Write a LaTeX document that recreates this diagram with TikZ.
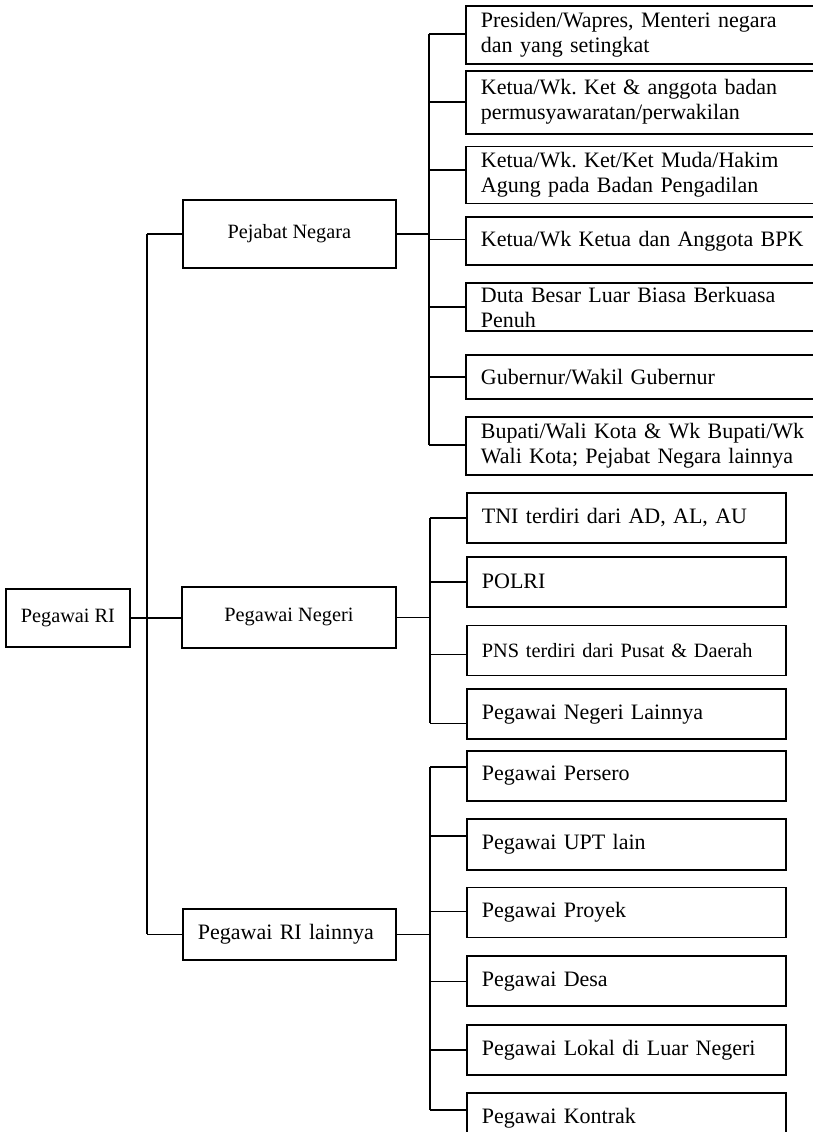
\documentclass[tikz,border=0pt]{standalone}
\usepackage{fontspec}
\setmainfont{Liberation Serif}
\frenchspacing
\usetikzlibrary{positioning}
\tikzstyle{rootbox} = [draw, line width=1.8pt, anchor=north west, inner sep=0pt, text centered, font=\fontsize{20.3}{24}\selectfont]
\tikzstyle{groupbox} = [draw, line width=1.8pt, anchor=north west, inner sep=0pt, text centered, font=\fontsize{20.3}{24}\selectfont]
\tikzstyle{leafbox} = [draw, line width=1.8pt, anchor=north west, inner xsep=15pt, inner ysep=0pt, text width=335pt, align=left, font=\fontsize{22}{25}\selectfont]
\tikzstyle{line} = [draw, line width=1.6pt]
\newcommand{\pegroot}[3]{node (r#1) [rootbox,#2] {#3}}
\newcommand{\peggroup}[3]{node (g#1) [groupbox,#2] {#3}}
\newcommand{\pegleaf}[3]{node (l#1) [leafbox,#2] {#3}}

\begin{document}
\begin{tikzpicture}[x=1pt,y=-1pt]
\clip (0,0) rectangle (813,1132);

% Pejabat Negara
\path (465,5) \pegleaf{1}{minimum height=58}{Presiden/Wapres, Menteri negara\\dan yang setingkat};
\path (l1.south west)+(0,5) \pegleaf{2}{minimum height=63}{Ketua/Wk. Ket \& anggota badan\\permusyawaratan/perwakilan};
\path (l2.south west)+(0,11) \pegleaf{3}{minimum height=57}{Ketua/Wk. Ket/Ket Muda/Hakim\\Agung pada Badan Pengadilan};
\path (l3.south west)+(0,12) \pegleaf{4}{minimum height=48}{Ketua/Wk Ketua dan Anggota BPK};
\path (l4.south west)+(0,16) \pegleaf{5}{minimum height=48}{Duta Besar Luar Biasa Berkuasa\\Penuh};
\path (l5.south west)+(0,22) \pegleaf{6}{minimum height=44}{Gubernur/Wakil Gubernur};
\path (l6.south west)+(0,16) \pegleaf{7}{minimum height=58}{Bupati/Wali Kota \& Wk Bupati/Wk\\Wali Kota; Pejabat Negara lainnya};
\path (182,199) \peggroup{1}{minimum width=213, minimum height=68}{Pejabat Negara};

% Pegawai Negeri
\path (466,492) \pegleaf{8}{minimum height=50, text width=289pt}{TNI terdiri dari AD, AL, AU};
\path (l8.south west)+(0,12) \pegleaf{9}{minimum height=50, text width=289pt}{POLRI};
\path (l9.south west)+(0,17) \pegleaf{10}{minimum height=50, text width=289pt, font=\fontsize{20.3}{24}\selectfont}{PNS terdiri dari Pusat \& Daerah};
\path (l10.south west)+(0,12) \pegleaf{11}{minimum height=50, text width=289pt}{Pegawai Negeri Lainnya};
\path (181,586) \peggroup{2}{minimum width=214, minimum height=61}{Pegawai Negeri};
\path (g2.north west)+(-176,2) \pegroot{1}{minimum width=124, minimum height=58}{Pegawai RI};

% Pegawai RI lainnya
\path (466,750) \pegleaf{12}{minimum height=50, text width=289pt}{Pegawai Persero};
\path (l12.south west)+(0,16) \pegleaf{13}{minimum height=51, text width=289pt}{Pegawai UPT lain};
\path (l13.south west)+(0,16) \pegleaf{14}{minimum height=50, text width=289pt}{Pegawai Proyek};
\path (l14.south west)+(0,17) \pegleaf{15}{minimum height=50, text width=289pt}{Pegawai Desa};
\path (l15.south west)+(0,17) \pegleaf{16}{minimum height=50, text width=289pt}{Pegawai Lokal di Luar Negeri};
\path (l16.south west)+(0,16) \pegleaf{17}{minimum height=50, text width=289pt}{Pegawai Kontrak};
\path (182,908) \peggroup{3}{minimum height=51, text width=183pt, inner xsep=15pt, align=left, font=\fontsize{22}{25}\selectfont}{Pegawai RI lainnya};

% stubs and buses
\foreach \i/\s in {1/1,2/0,3/5,4/2,5/0,6/0,7/1,8/0,9/0,10/-4,11/-9,12/9,13/8,14/1,15/0,16/0,17/8}
  \path [line] ([yshift=\s]l\i.west) -- ++(-36,0) coordinate (s\i);
\path [line] (s1) -- (s7);
\path [line] (s8) -- (s11);
\path [line] (s12) -- (s17);
\path [line] (g1.east) -- (g1.east -| s1);
\path [line] (g2.east) -- (g2.east -| s8);
\path [line] (g3.east) -- (g3.east -| s12);
\path [line] (g1.west) -- ++(-35,0) coordinate (m1);
\path [line] (g3.west) -- ++(-35,0) coordinate (m3);
\path [line] (m1) -- (m3);
\path [line] (r1.east) -- (r1.east -| g2.west);
\end{tikzpicture}
\end{document}
